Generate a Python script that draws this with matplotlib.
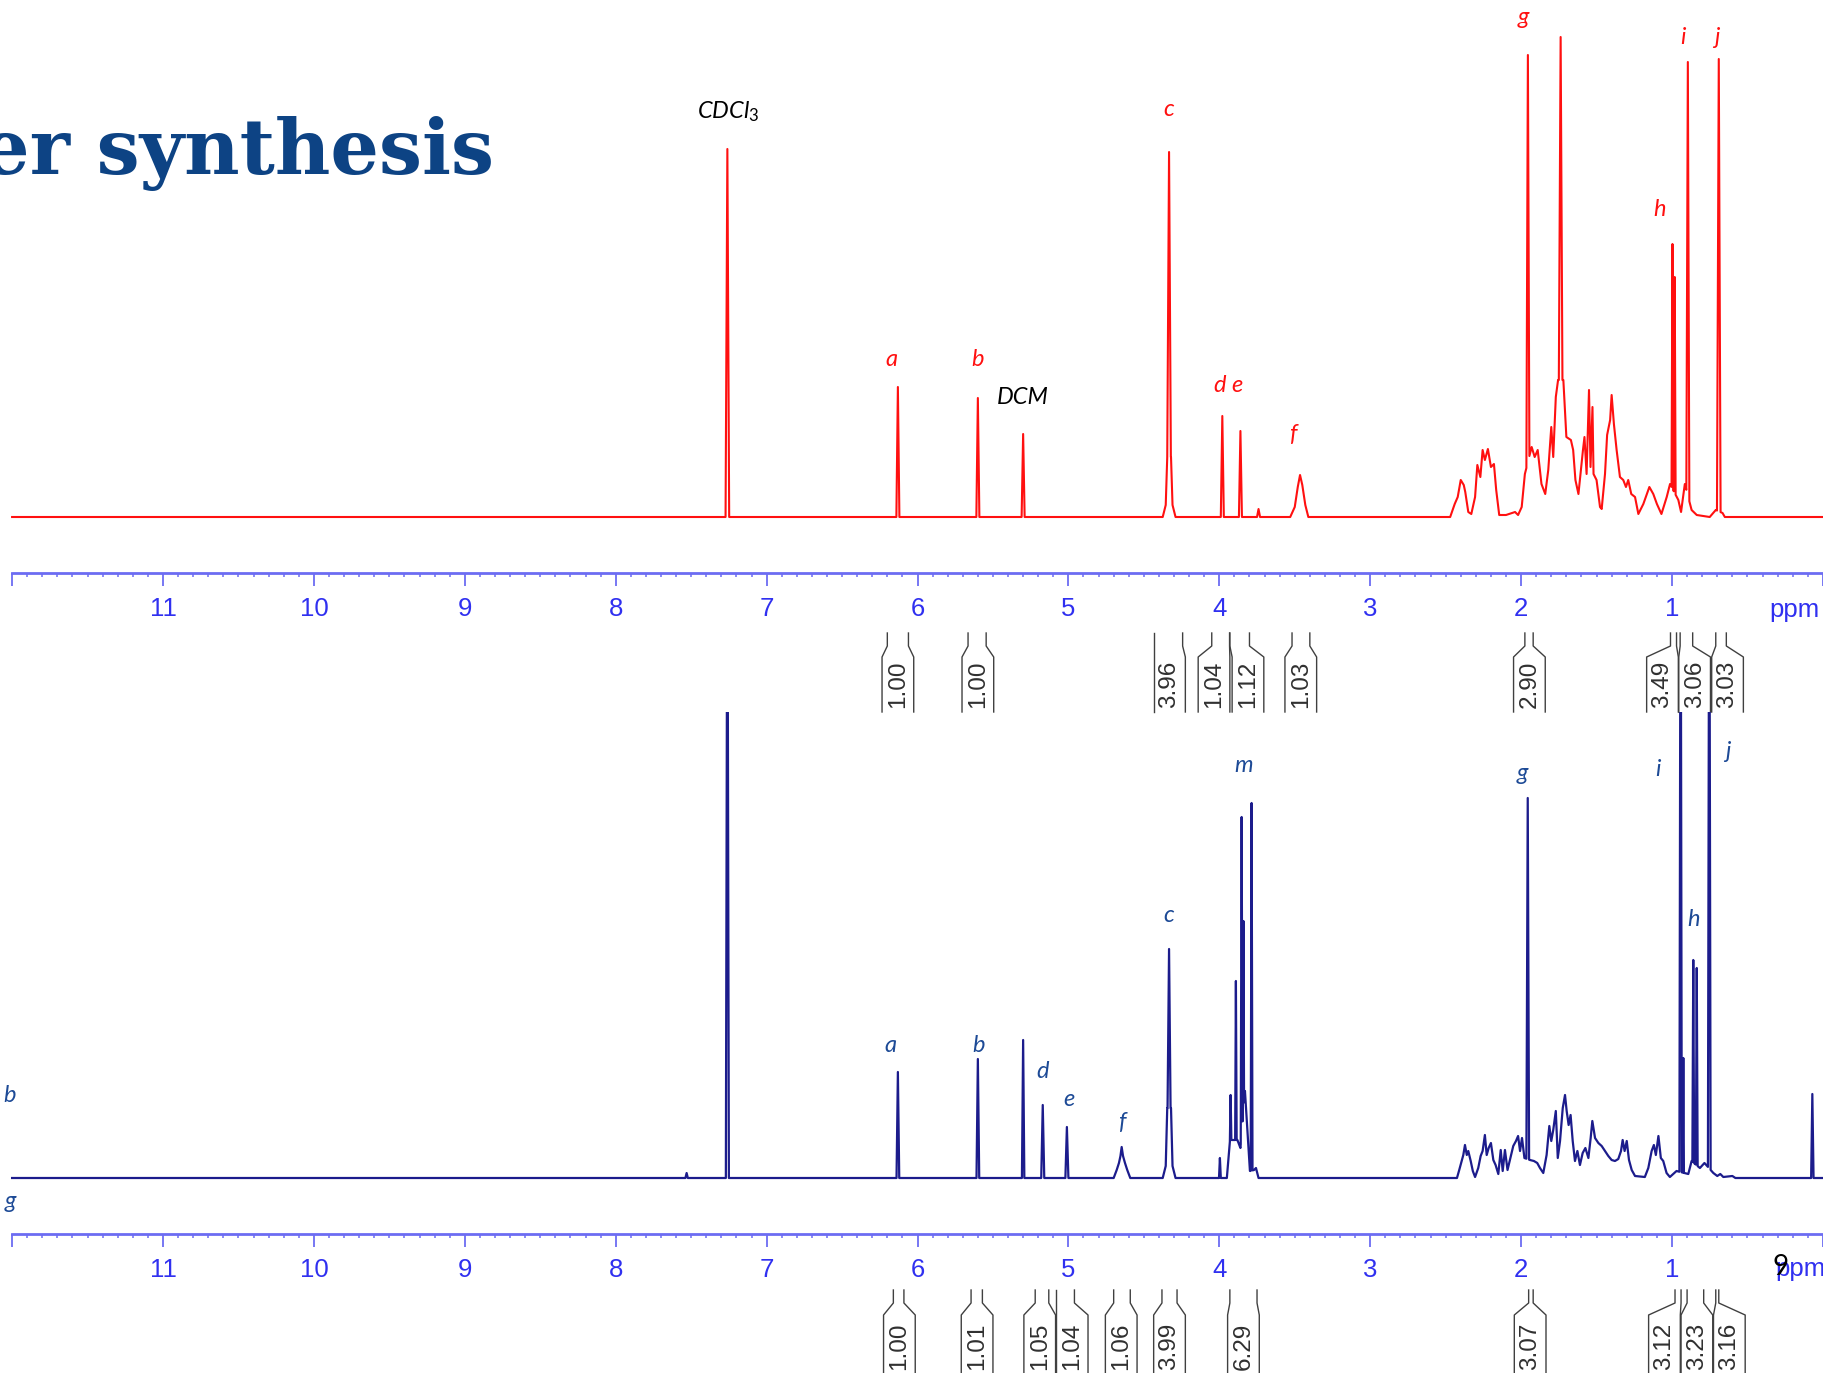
import numpy as np
import matplotlib
matplotlib.use('Agg')
import matplotlib.pyplot as plt

plt.rcParams['mathtext.fontset'] = 'custom'
plt.rcParams['mathtext.it'] = 'Lato:italic'
plt.rcParams['mathtext.rm'] = 'Lato'

# ---------------- data (ppm, height in px above baseline) ----------------
# top spectrum (red): sharp lines
red_peak_ppm = [7.26, 6.13, 5.60, 5.30, 4.333, 3.98, 3.86, 3.74, 1.955, 1.738, 0.997, 0.982, 0.895, 0.69]
red_peak_h = [368, 130, 119, 83, 365, 101, 86, 8, 462, 480, 273, 240, 455, 458]
red_peak_w = [0.012, 0.010, 0.010, 0.010, 0.012, 0.010, 0.010, 0.010, 0.010, 0.012, 0.006, 0.006, 0.010, 0.012]
# top spectrum (red): multiplet envelopes
red_hump_ppm = [4.375, 4.355, 4.345, 4.32, 4.31, 4.29,
                3.53, 3.50, 3.48, 3.465, 3.45, 3.43, 3.41,
                2.47, 2.44, 2.42, 2.40, 2.38, 2.37, 2.35, 2.33, 2.305, 2.29, 2.27, 2.255, 2.24, 2.22,
                2.20, 2.18, 2.165, 2.145, 2.10, 2.04, 2.02, 1.996, 1.975,
                1.93, 1.91, 1.89, 1.865, 1.84, 1.82, 1.80, 1.787, 1.77, 1.755,
                1.72, 1.70, 1.67, 1.655, 1.64, 1.62, 1.59, 1.58, 1.566, 1.55, 1.54, 1.527, 1.52,
                1.50, 1.477, 1.466, 1.444, 1.43, 1.41, 1.40, 1.385, 1.367, 1.345, 1.323, 1.305,
                1.29, 1.27, 1.245, 1.223, 1.19, 1.15, 1.124, 1.10, 1.07, 1.035, 1.013,
                0.958, 0.94, 0.915, 0.87, 0.836, 0.75, 0.71, 0.665, 0.65]
red_hump_h = [0, 12, 60, 60, 12, 0,
              0, 10, 30, 42, 32, 12, 0,
              0, 13, 20, 37, 32, 25, 5, 3, 20, 52, 40, 67, 57, 68,
              50, 53, 27, 2, 2, 5, 2, 10, 43,
              70, 60, 67, 33, 23, 47, 90, 60, 120, 137,
              137, 80, 77, 67, 37, 23, 67, 80, 43, 127, 50, 110, 43,
              37, 10, 8, 43, 82, 97, 122, 93, 67, 40, 37, 30,
              37, 23, 20, 3, 13, 30, 23, 13, 3, 20, 33,
              17, 5, 33, 7, 2, 0, 7, 4, 0]

# bottom spectrum (blue): sharp lines
blue_peak_ppm = [7.53, 7.26, 6.13, 5.60, 5.30, 5.17, 5.01, 4.333,
                 3.996, 3.925, 3.89, 3.852, 3.84, 3.786, 1.956, 0.943, 0.925, 0.859, 0.836, 0.753, 0.07]
blue_peak_h = [5, 700, 106, 119, 138, 73, 51, 229,
               20, 83, 197, 361, 257, 375, 380, 700, 120, 218, 210, 700, 84]
blue_peak_w = [0.008, 0.010, 0.009, 0.009, 0.008, 0.010, 0.010, 0.010,
               0.006, 0.005, 0.005, 0.006, 0.004, 0.006, 0.009, 0.008, 0.004, 0.006, 0.006, 0.009, 0.008]
# bottom spectrum (blue): multiplet envelopes
blue_hump_ppm = [4.70, 4.68, 4.665, 4.655, 4.647, 4.638, 4.625, 4.61, 4.59,
                 4.375, 4.355, 4.345, 4.32, 4.31, 4.29,
                 3.95, 3.929, 3.90, 3.88, 3.86, 3.83, 3.815, 3.797, 3.77, 3.757, 3.74,
                 2.425, 2.41, 2.394, 2.383, 2.372, 2.36, 2.35, 2.334, 2.32, 2.305,
                 2.284, 2.268, 2.255, 2.24, 2.228, 2.215, 2.20, 2.184, 2.169, 2.151, 2.135, 2.122,
                 2.107, 2.09, 2.074, 2.052, 2.034, 2.02, 2.007, 1.994, 1.978,
                 1.941, 1.915, 1.893, 1.875, 1.853, 1.831, 1.813, 1.80, 1.787, 1.77, 1.757,
                 1.742, 1.724, 1.709, 1.698, 1.685, 1.672, 1.658, 1.643, 1.627, 1.61, 1.592,
                 1.574, 1.554, 1.539, 1.528, 1.51, 1.488, 1.466, 1.444, 1.422, 1.40, 1.378,
                 1.356, 1.338, 1.327, 1.314, 1.30, 1.285, 1.267, 1.245, 1.18,
                 1.157, 1.135, 1.12, 1.107, 1.09, 1.074, 1.058, 1.036, 1.014, 0.97,
                 0.892, 0.87, 0.815, 0.803, 0.785, 0.726, 0.70, 0.68, 0.66, 0.60, 0.58]
blue_hump_h = [0, 8, 15, 22, 31, 22, 15, 8, 0,
               0, 12, 70, 70, 12, 0,
               0, 38, 38, 38, 30, 87, 50, 7, 8, 10, 0,
               0, 8, 17, 23, 33, 23, 27, 17, 7, 1,
               10, 22, 27, 43, 23, 30, 35, 18, 13, 4, 28, 7,
               28, 8, 18, 32, 37, 42, 27, 40, 20,
               18, 17, 15, 10, 5, 23, 52, 37, 48, 67, 20,
               37, 70, 83, 67, 53, 63, 37, 17, 27, 13, 25,
               30, 20, 40, 57, 40, 35, 32, 27, 22, 18, 17,
               19, 27, 38, 27, 37, 18, 8, 2, 1,
               10, 27, 33, 23, 42, 20, 17, 5, 1, 7,
               4, 17, 10, 12, 15, 5, 2, 4, 1, 2, 0]

# peak labels
top_label_text = [r'$\mathit{CDCl_3}$', 'a', 'b', 'DCM', 'c', 'd e', 'f', 'g', 'h', 'i', 'j']
top_label_ppm = [7.255, 6.17, 5.60, 5.30, 4.335, 3.935, 3.51, 1.985, 1.08, 0.93, 0.70]
top_label_h = [405, 157, 157, 119, 407, 131, 83, 500, 307, 480, 480]
top_label_black = ['$\\mathit{CDCl_3}$', 'DCM']

bot_label_text = ['b', 'g', 'a', 'b', 'd', 'e', 'f', 'c', 'm', 'g', 'i', 'h', 'j']
bot_label_ppm = [12.02, 12.01, 6.176, 5.598, 5.174, 4.997, 4.643, 4.334, 3.841, 1.992, 1.091, 0.86, 0.629]
bot_label_h = [82, -24, 132, 132, 107, 79, 55, 263, 412, 405, 408, 258, 426]

# integrals: label, box centre, integration range (left, right)
top_int_label = ['1.00', '1.00', '3.96', '1.04', '1.12', '1.03', '2.90', '3.49', '3.06', '3.03']
top_int_center = [6.13, 5.60, 4.33, 4.035, 3.81, 3.46, 1.945, 1.063, 0.85, 0.632]
top_int_left = [6.20, 5.665, 4.435, 4.05, 3.93, 3.518, 1.975, 1.01, 0.946, 0.71]
top_int_right = [6.06, 5.545, 4.243, 3.932, 3.80, 3.40, 1.92, 0.97, 0.863, 0.64]

bot_int_label = ['1.00', '1.01', '1.05', '1.04', '1.06', '3.99', '6.29', '3.07', '3.12', '3.23', '3.16']
bot_int_center = [6.12, 5.605, 5.19, 4.975, 4.65, 4.33, 3.84, 1.94, 1.05, 0.835, 0.62]
bot_int_left = [6.16, 5.645, 5.22, 5.08, 4.70, 4.38, 3.93, 1.95, 0.98, 0.90, 0.71]
bot_int_right = [6.09, 5.57, 5.13, 4.96, 4.59, 4.28, 3.75, 1.92, 0.94, 0.79, 0.69]

major_ticks = list(range(0, 13))

# ---------------- figure layout (pixels of the 1823x1373 picture) ----------------
W, H = 1823, 1373
PX_PER_PPM = 150.9
X_LEFT = 11 + 163 / PX_PER_PPM
X_RIGHT = 11 - (W - 163) / PX_PER_PPM

RED = '#ff1010'
NAVY = '#1c1c8c'
LABEL_BLUE = '#1d4a96'
RULER = '#6c6cf2'
TICKLAB = '#3030f0'

fig = plt.figure(figsize=(W / 100, H / 100), dpi=100)


def trace(hump_ppm, hump_h, peak_ppm, peak_h, peak_w):
    hx = np.array([12.0] + hump_ppm + [0.0])
    hy = np.array([0] + hump_h + [0], dtype=float)
    order = np.argsort(hx)
    hx_a, hy_a = hx[order], hy[order]
    pts = []
    for x, y in zip(hx, hy):
        if any(abs(x - p) < w for p, w in zip(peak_ppm, peak_w)):
            continue
        pts.append((x, y))
    for p, h, w in zip(peak_ppm, peak_h, peak_w):
        pts.append((p + w, np.interp(p + w, hx_a, hy_a)))
        pts.append((p, h))
        pts.append((p - w, np.interp(p - w, hx_a, hy_a)))
    pts.sort(key=lambda t: -t[0])
    return [t[0] for t in pts], [t[1] for t in pts]


def make_axes(y_ruler, y_top, baseline):
    ax = fig.add_axes([0, (H - y_ruler) / H, 1, (y_ruler - y_top) / H])
    ax.set_xlim(X_LEFT, X_RIGHT)
    ax.set_ylim(-(y_ruler - baseline), baseline - y_top)
    ax.patch.set_visible(False)
    for s in ['top', 'left', 'right']:
        ax.spines[s].set_visible(False)
    ax.spines['bottom'].set_bounds(12, 0)
    ax.spines['bottom'].set_color(RULER)
    ax.spines['bottom'].set_linewidth(2.0)
    ax.set_xticks(major_ticks)
    ax.set_xticklabels(['' if t in (0, 12) else str(t) for t in major_ticks])
    ax.set_xticks(np.arange(0, 121) / 10, minor=True)
    ax.tick_params(axis='x', which='major', direction='out', length=9.5, width=1.3,
                   color=RULER, labelsize=18.5, labelcolor=TICKLAB, pad=7.5)
    ax.tick_params(axis='x', which='minor', direction='out', length=3, width=1.1, color=RULER)
    for lab in ax.get_xticklabels():
        lab.set_family('Liberation Sans')
    ax.set_yticks([])
    return ax


def integrals(ax, labels, centers, lefts, rights, y0, y1, y2, y3, ytext):
    half = 0.105
    for lab, c, l, r in zip(labels, centers, lefts, rights):
        ax.plot([l, l, c + half, c + half], [y0, y1, y2, y3], color='#404040', lw=1.0, clip_on=False)
        ax.plot([r, r, c - half, c - half], [y0, y1, y2, y3], color='#404040', lw=1.0, clip_on=False)
        ax.text(c, ytext, lab, rotation=90, ha='center', va='center', fontsize=17.5,
                family='Liberation Sans', color='#303030', clip_on=False)


# top (red) spectrum
ax1 = make_axes(573, 0, 517)
x, y = trace(red_hump_ppm, red_hump_h, red_peak_ppm, red_peak_h, red_peak_w)
ax1.plot(x, y, color=RED, lw=1.5)
for t, p, h in zip(top_label_text, top_label_ppm, top_label_h):
    col = 'black' if t in top_label_black else RED
    ax1.text(p, h, t, ha='center', va='center', fontsize=17, style='italic',
             family=['Lato', 'DejaVu Sans'], color=col, clip_on=False)
ax1.text(0.19, -93, 'ppm', ha='center', va='center', fontsize=18.5,
         family='Liberation Sans', color=TICKLAB)
integrals(ax1, top_int_label, top_int_center, top_int_left, top_int_right,
          -116, -129, -140, -195, -167)

# bottom (blue) spectrum
ax2 = make_axes(1234, 712, 1178)
x, y = trace(blue_hump_ppm, blue_hump_h, blue_peak_ppm, blue_peak_h, blue_peak_w)
ax2.plot(x, y, color=NAVY, lw=1.6)
for t, p, h in zip(bot_label_text, bot_label_ppm, bot_label_h):
    ax2.text(p, h, t, ha='center', va='center', fontsize=17, style='italic',
             family=['Lato', 'DejaVu Sans'], color=LABEL_BLUE, clip_on=False)
ax2.text(0.15, -91, 'ppm', ha='center', va='center', fontsize=18.5,
         family='Liberation Sans', color=TICKLAB)
integrals(ax2, bot_int_label, bot_int_center, bot_int_left, bot_int_right,
          -112, -125, -137, -210, -168)

# slide title fragment and page number
fig.text(494 / W, 1 - 174 / H, 'er synthesis', ha='right', va='baseline', fontsize=55,
         fontweight='bold', family='DejaVu Serif', color='#0d4384')
fig.text(1781 / W, 1 - 1267 / H, '9', ha='center', va='center', fontsize=20,
         family=['Lato', 'DejaVu Sans'], color='black')

fig.savefig('out.png', dpi=100)
